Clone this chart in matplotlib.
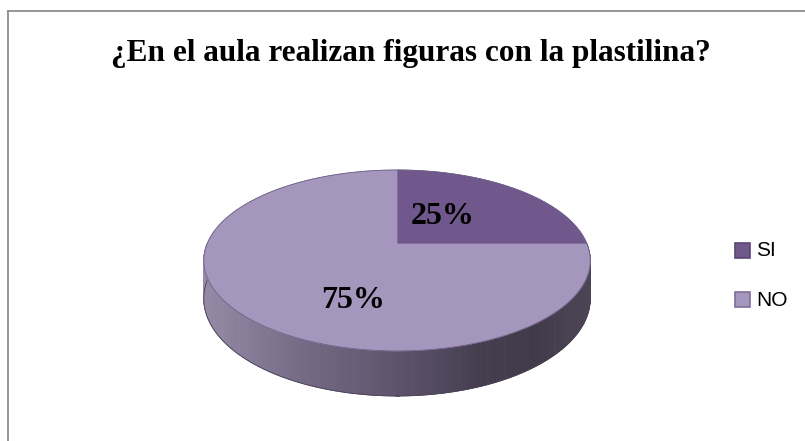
import numpy as np
import matplotlib
matplotlib.use("Agg")
import matplotlib.pyplot as plt
from matplotlib.patches import Polygon, Rectangle

# DATA
labels = ["SI", "NO"]
values = [25, 75]
top_colors = ["#70588d", "#a496bc"]
edge_colors = ["#5a4575", "#7f6f99"]
title = "¿En el aula realizan figuras con la plastilina?"

# GEOMETRY OF THE 3D PIE (pixels)
cx, cy = 397, 244
a, b, k, h0 = 190, 87.5, 0.182, 36.8

# side shading, left to right
grad_pos = [0.0, 0.25, 0.5, 0.72, 0.86, 1.0]
grad_rgb = np.array([[150, 138, 166], [118, 107, 134], [93, 83, 107],
                     [68, 61, 78], [63, 58, 73], [76, 69, 86]]) / 255.0


def proj(theta, depth=0.0):
    u, v = np.cos(theta), np.sin(theta)
    s = 1.0 / (1.0 + k * v)
    return cx + a * u * s, cy - b * v * s + h0 * depth * s


fig = plt.figure(figsize=(8.05, 4.41), dpi=100)
ax = fig.add_axes([0, 0, 1, 1])
ax.set_xlim(0, 805)
ax.set_ylim(441, 0)
ax.axis("off")

# frame
ax.plot([8, 8], [441, 11], color="#8c8c8c", lw=1.3)
ax.plot([8, 805], [11, 11], color="#8c8c8c", lw=1.3)

# side of the cylinder
th = np.linspace(np.pi, 2 * np.pi, 240)
xl, xr = cx - 193, cx + 193
for t0, t1 in zip(th[:-1], th[1:]):
    x0, y0 = proj(t0)
    x1, y1 = proj(t1)
    x2, y2 = proj(t1, 1)
    x3, y3 = proj(t0, 1)
    f = ((x0 + x1) / 2 - xl) / (xr - xl)
    col = [np.interp(f, grad_pos, grad_rgb[:, i]) for i in range(3)]
    ax.add_patch(Polygon([(x0, y0), (x1, y1), (x2, y2), (x3, y3)],
                         closed=True, facecolor=col, edgecolor=col, lw=0.6))
# bottom outline
bx, by = proj(th, 1)
ax.plot(bx, by, color="#4a4258", lw=0.6)

# top wedges, clockwise from 12 o'clock
start = np.pi / 2
for val, fc, ec in zip(values, top_colors, edge_colors):
    sweep = 2 * np.pi * val / sum(values)
    tt = np.linspace(start, start - sweep, 200)
    px, py = proj(tt)
    pts = [(cx, cy)] + list(zip(px, py))
    ax.add_patch(Polygon(pts, closed=True, facecolor=fc, edgecolor=fc, lw=0.5))
    start -= sweep
# rim outline
tt = np.linspace(0, 2 * np.pi, 400)
rx, ry = proj(tt)
ax.plot(rx, ry, color="#6e6185", lw=0.6)

# percentage labels
pct_pos = [(443, 217), (353, 301)]
for val, (lx, ly) in zip(values, pct_pos):
    ax.text(lx, ly, f"{val}%", ha="center", va="center",
            fontfamily="Liberation Serif", fontweight="bold", fontsize=23,
            color="black")

# title
ax.text(411, 54, title, ha="center", va="center",
        fontfamily="Liberation Serif", fontweight="bold", fontsize=22.5)

# legend
leg_y = [251, 300]
for lab, fc, ec, ly in zip(labels, top_colors, edge_colors, leg_y):
    ax.add_patch(Rectangle((735, ly - 8), 15, 15, facecolor=fc,
                           edgecolor=ec, lw=1.2))
    ax.text(756, ly, lab, ha="left", va="center",
            fontfamily="Liberation Sans", fontsize=15)

plt.savefig("out.png", dpi=100)
